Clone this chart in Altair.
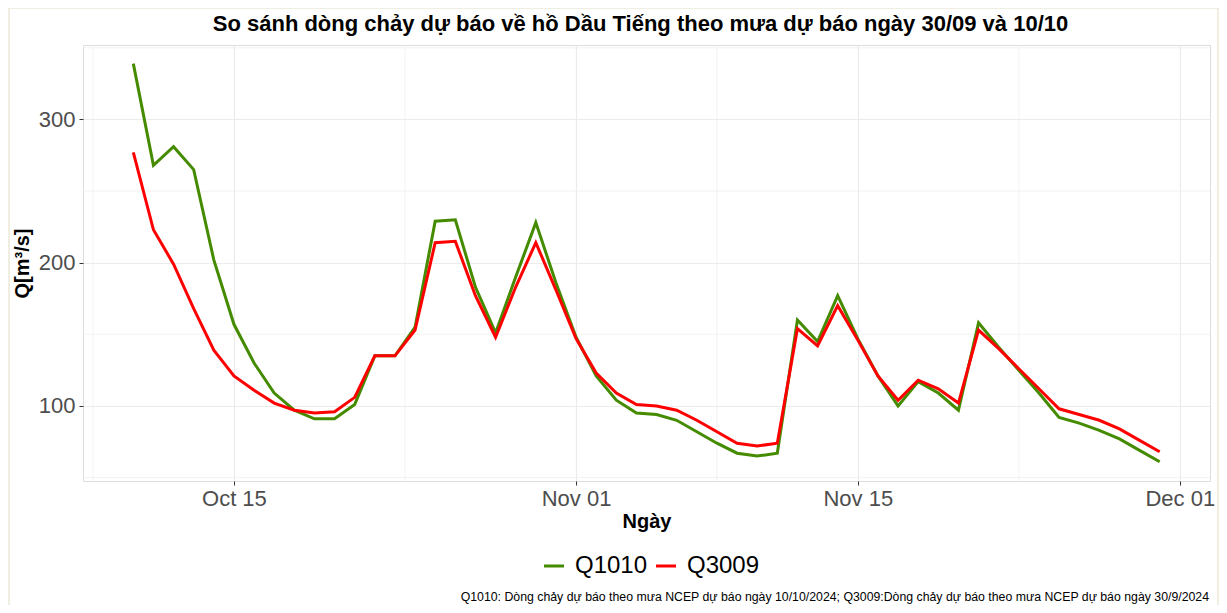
import altair as alt
import pandas as pd

# ---------------- data ----------------
dates = pd.date_range("2024-10-10", "2024-11-30", freq="D").strftime("%Y-%m-%d").tolist()

q1010 = [339, 268, 281, 265, 202, 157, 130, 109, 97, 91,
         91, 101, 135, 135, 155, 229, 230, 183, 151, 190,
         228, 186, 148, 121, 104, 95, 94, 90, 82, 74,
         67, 65, 67, 160, 145, 177, 147, 121, 100, 117,
         109, 97, 158, 141, 125, 109, 92, 88, 83, 77,
         69, 61]

q3009 = [277, 223, 199, 168, 139, 121, 111, 102, 97, 95,
         96, 106, 135, 135, 153, 214, 215, 177, 148, 183,
         214, 181, 147, 123, 109, 101, 100, 97, 90, 82,
         74, 72, 74, 154, 142, 170, 146, 121, 104, 118,
         112, 102, 153, 140, 126, 112, 98, 94, 90, 84,
         76, 68]

series_names = ["Q1010", "Q3009"]
series_colors = ["#458B00", "#FF0000"]

y_major = [100, 200, 300]
y_minor = [50, 150, 250, 350]
x_minor = ["2024-10-08", "2024-10-23T12:00:00Z", "2024-11-08", "2024-11-23"]

title_text = "So sánh dòng chảy dự báo về hồ Dầu Tiếng theo mưa dự báo ngày 30/09 và 10/10"
caption_text = ("Q1010: Dòng chảy dự báo theo mưa NCEP dự báo ngày 10/10/2024; "
                "Q3009:Dòng chảy dự báo theo mưa NCEP dự báo ngày 30/9/2024")

FONT = "Liberation Sans"

df = pd.DataFrame({
    "date": dates + dates,
    "Q": q1010 + q3009,
    "series": [series_names[0]] * len(dates) + [series_names[1]] * len(dates),
})


def dt(y, m, d, h=0):
    return alt.DateTime(year=y, month=m, date=d, hours=h, utc=True)


x_scale = alt.Scale(type="utc", domain=[dt(2024, 10, 7, 12), dt(2024, 12, 2, 12)])
y_scale = alt.Scale(domain=[47.6, 352], nice=False, zero=False)

x_axis = alt.Axis(
    values=[dt(2024, 10, 15), dt(2024, 11, 1), dt(2024, 11, 15), dt(2024, 12, 1)],
    labelExpr="utcFormat(datum.value, '%b %d')", title="Ngày",
    grid=True, gridColor="#EBEBEB", gridWidth=1.2,
    domain=False, ticks=True, tickColor="#333333", tickSize=4, tickWidth=1,
    labelFontSize=22, labelColor="#4D4D4D", labelPadding=3,
    titleFontSize=20, titleFontWeight="bold", titleColor="black", titlePadding=2,
)
y_axis = alt.Axis(
    values=y_major, title="Q[m³/s]",
    grid=True, gridColor="#EBEBEB", gridWidth=1.2,
    domain=False, ticks=True, tickColor="#333333", tickSize=4, tickWidth=1,
    labelFontSize=22, labelColor="#4D4D4D", labelPadding=4,
    titleFontSize=20, titleFontWeight="bold", titleColor="black", titlePadding=6,
)

minor_x = alt.Chart(pd.DataFrame({"date": x_minor})).mark_rule(
    color="#EFEFEF", strokeWidth=0.8
).encode(x=alt.X("date:T", scale=x_scale, axis=x_axis))

minor_y = alt.Chart(pd.DataFrame({"Q": y_minor})).mark_rule(
    color="#EFEFEF", strokeWidth=0.8
).encode(y=alt.Y("Q:Q", scale=y_scale, axis=y_axis))

lines = alt.Chart(df).mark_line(strokeWidth=3).encode(
    x=alt.X("date:T", scale=x_scale, axis=x_axis),
    y=alt.Y("Q:Q", scale=y_scale, axis=y_axis),
    color=alt.Color(
        "series:N",
        scale=alt.Scale(domain=series_names, range=series_colors),
        legend=alt.Legend(
            orient="none", legendX=459, legendY=509, direction="horizontal",
            title=None, symbolType="stroke", symbolSize=400, symbolStrokeWidth=3,
            labelFontSize=24, labelColor="black", labelFont=FONT,
            labelOffset=9, columnPadding=2,
        ),
    ),
    detail="series:N",
)

caption = alt.Chart(pd.DataFrame({"t": [caption_text]})).mark_text(
    align="right", baseline="alphabetic", fontSize=12.3, font=FONT, color="black"
).encode(x=alt.value(1126), y=alt.value(556), text="t:N")

frame = alt.Chart(pd.DataFrame({"t": [0]})).mark_rect(
    fillOpacity=0, stroke="#ECE8D8", strokeWidth=1.5
).encode(x=alt.value(-74), x2=alt.value(1135), y=alt.value(-37), y2=alt.value(620))

chart = alt.layer(minor_x, minor_y, lines, caption, frame).properties(
    width=1127, height=436,
    title=alt.TitleParams(
        title_text, fontSize=22, fontWeight="bold", font=FONT,
        anchor="middle", color="black", offset=0, frame="group",
        baseline="alphabetic", dy=46, dx=-6,
    ),
    autosize=alt.AutoSizeParams(type="none"),
    padding={"left": 75, "top": 37, "right": 9, "bottom": 124},
).configure_view(
    stroke="#666666", strokeWidth=1
).configure_axis(
    labelFont=FONT, titleFont=FONT
).configure(background="white")

chart.save("out.html", embed_options={"renderer": "svg", "actions": False})
